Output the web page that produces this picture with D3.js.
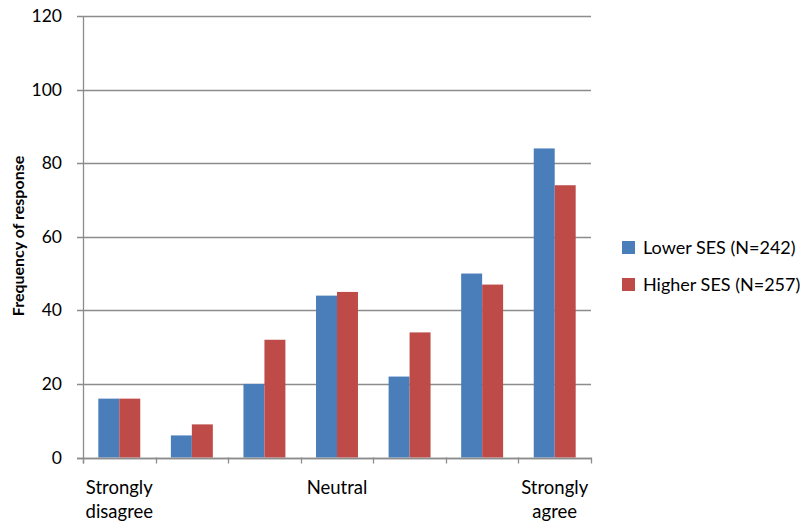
<!DOCTYPE html>
<html><head><meta charset="utf-8">
<script src="https://cdn.jsdelivr.net/npm/d3@7"></script>
<style>body{margin:0;background:#fff;} text{font-family:Lato,"Open Sans",sans-serif;fill:#000;}</style>
</head><body><svg id="c" width="800" height="522"></svg>
<script>
const categories = ["1","2","3","4","5","6","7"];
const categoryLabels = [["Strongly","disagree"],[],[],["Neutral"],[],[],["Strongly","agree"]];
const seriesNames = ["Lower SES (N=242)","Higher SES (N=257)"];
const lowerSES = [16, 6, 20, 44, 22, 50, 84];
const higherSES = [16, 9, 32, 45, 34, 47, 74];
const yTicks = [0, 20, 40, 60, 80, 100, 120];
const colors = ["#4A7EBB", "#BE4B48"];

const svg = d3.select("#c");
const pLeft = 83, pRight = 591, pTop = 16, pBottom = 457.5;
const x = d3.scaleBand().domain(categories).range([pLeft, pRight]).paddingInner(0).paddingOuter(0);
const y = d3.scaleLinear().domain([0, 120]).range([pBottom, pTop]);
const inner = d3.scaleBand().domain([0,1]).range([0, x.bandwidth()]).paddingInner(0).paddingOuter(0.73);

// gridlines
svg.selectAll("line.grid").data(yTicks).join("line").attr("class","grid")
  .attr("x1", pLeft - 6).attr("x2", pRight)
  .attr("y1", d => Math.round(y(d)) + 0.5).attr("y2", d => Math.round(y(d)) + 0.5)
  .attr("stroke", "#8c8c8c").attr("stroke-width", 1.3);

// y labels
svg.selectAll("text.yl").data(yTicks).join("text").attr("class","yl")
  .attr("x", 62).attr("y", d => y(d)).attr("dy", "0.35em")
  .attr("text-anchor", "end").attr("font-size", 17.5).text(d => d);

// bars
categories.forEach((c, i) => {
  [lowerSES[i], higherSES[i]].forEach((v, s) => {
    svg.append("rect")
      .attr("x", x(c) + inner(s)).attr("width", inner.bandwidth())
      .attr("y", y(v)).attr("height", y(0) - y(v))
      .attr("fill", colors[s]);
  });
});

// y axis line
svg.append("line").attr("x1", pLeft + 0.5).attr("x2", pLeft + 0.5).attr("y1", pTop).attr("y2", pBottom + 6)
  .attr("stroke", "#8c8c8c").attr("stroke-width", 1.3);
// x axis line
svg.append("line").attr("x1", pLeft - 6).attr("x2", pRight).attr("y1", Math.round(pBottom)+0.5).attr("y2", Math.round(pBottom)+0.5)
  .attr("stroke", "#8c8c8c").attr("stroke-width", 1.3);
// x ticks at boundaries
const bounds = categories.map(c => x(c)).concat([pRight]);
svg.selectAll("line.xt").data(bounds).join("line").attr("class","xt")
  .attr("x1", d => Math.round(d) + 0.5).attr("x2", d => Math.round(d) + 0.5)
  .attr("y1", pBottom).attr("y2", pBottom + 6)
  .attr("stroke", "#8c8c8c").attr("stroke-width", 1.3);

// x labels
categories.forEach((c, i) => {
  const cx = x(c) + x.bandwidth() / 2;
  const t = svg.append("text").attr("text-anchor", "middle").attr("font-size", 18.5)
    .attr("x", cx).attr("y", 494);
  categoryLabels[i].forEach((line, k) => {
    t.append("tspan").attr("x", cx).attr("dy", k === 0 ? 0 : 24).text(line);
  });
});

// y title
svg.append("text").attr("transform", "translate(24,236) rotate(-90)")
  .attr("text-anchor", "middle").attr("font-size", 16).attr("font-weight", "bold")
  .text("Frequency of response");

// legend
seriesNames.forEach((n, s) => {
  const ly = 241 + s * 37;
  svg.append("rect").attr("x", 622).attr("y", ly).attr("width", 13).attr("height", 13).attr("fill", colors[s]);
  svg.append("text").attr("x", 643).attr("y", ly + 6.5).attr("dy", "0.35em").attr("font-size", 18).text(n);
});
</script></body></html>
